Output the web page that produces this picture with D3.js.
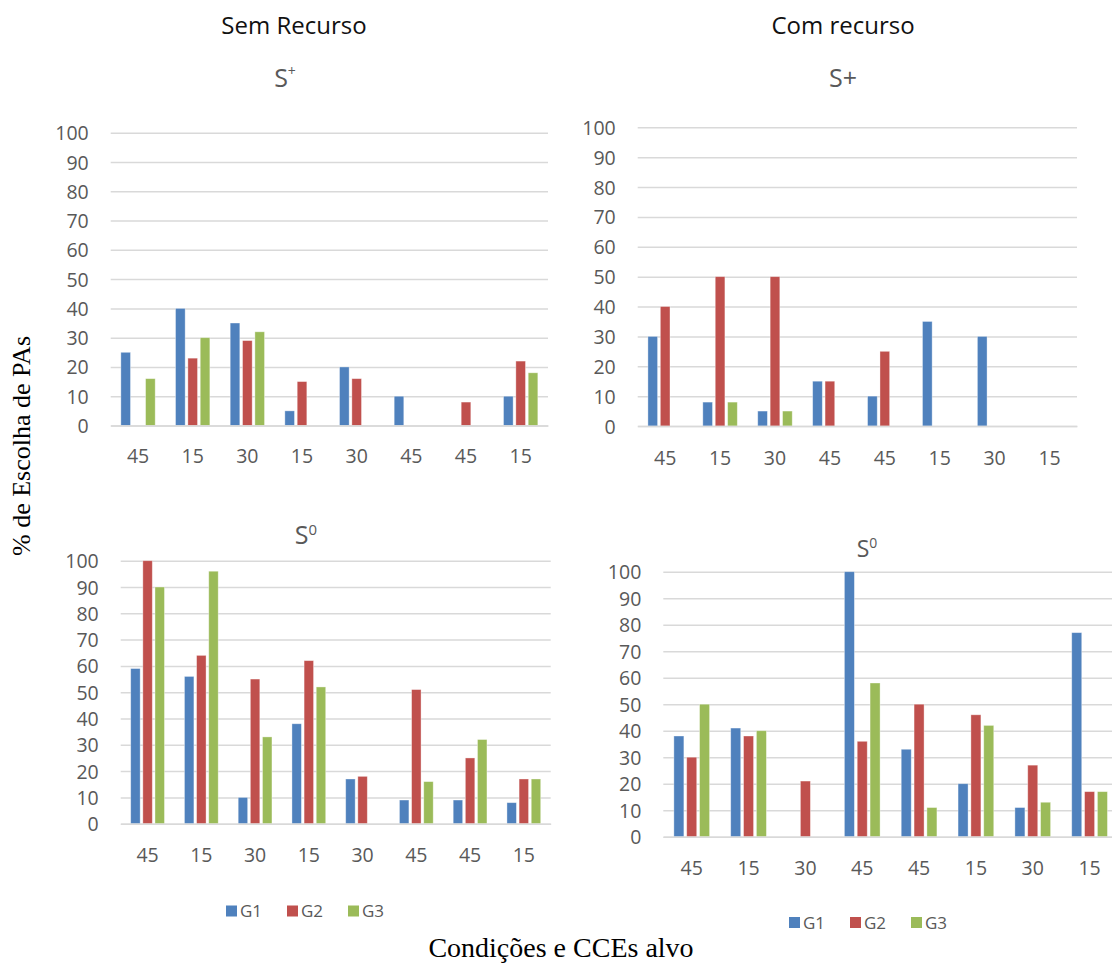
<!DOCTYPE html>
<html>
<head>
<meta charset="utf-8">
<script src="https://cdn.jsdelivr.net/npm/d3@7"></script>
<style>
  html, body { margin: 0; padding: 0; background: #fff; }
  svg { display: block; }
</style>
</head>
<body>
<svg id="chart" width="1112" height="965"></svg>
<script>
// Target CCE labels for each condition
const catsSem = ["45", "15", "30", "15", "30", "45", "45", "15"];
const catsCom = ["45", "15", "30", "45", "45", "15", "30", "15"];

const groups = ["G1", "G2", "G3"];
const groupColors = ["#4F81BD", "#C0504D", "#9BBB59"];

// Sem Recurso, S+
const semPlusG1 = [25, 40, 35, 5, 20, 10, 0, 10];
const semPlusG2 = [0, 23, 29, 15, 16, 0, 8, 22];
const semPlusG3 = [16, 30, 32, 0, 0, 0, 0, 18];

// Com recurso, S+
const comPlusG1 = [30, 8, 5, 15, 10, 35, 30, 0];
const comPlusG2 = [40, 50, 50, 15, 25, 0, 0, 0];
const comPlusG3 = [0, 8, 5, 0, 0, 0, 0, 0];

// Sem Recurso, S0
const semZeroG1 = [59, 56, 10, 38, 17, 9, 9, 8];
const semZeroG2 = [100, 64, 55, 62, 18, 51, 25, 17];
const semZeroG3 = [90, 96, 33, 52, 0, 16, 32, 17];

// Com recurso, S0
const comZeroG1 = [38, 41, 0, 100, 33, 20, 11, 77];
const comZeroG2 = [30, 38, 21, 36, 50, 46, 27, 17];
const comZeroG3 = [50, 40, 0, 58, 11, 42, 13, 17];

const yTicks = [0, 10, 20, 30, 40, 50, 60, 70, 80, 90, 100];

const svg = d3.select("#chart");
const tickFont = "'Open Sans', Lato, sans-serif";
const tickColor = "#595959";

// Panel frames (plot area and label placement)
const panels = [
  { cats: catsSem, series: [semPlusG1, semPlusG2, semPlusG3], x0: 110.7, x1: 548, yTop: 132.7, yBase: 425.5, catY: 456 },
  { cats: catsCom, series: [comPlusG1, comPlusG2, comPlusG3], x0: 637.7, x1: 1077, yTop: 127.3, yBase: 426, catY: 457.5 },
  { cats: catsSem, series: [semZeroG1, semZeroG2, semZeroG3], x0: 120.7, x1: 550.7, yTop: 560.7, yBase: 823.7, catY: 855 },
  { cats: catsCom, series: [comZeroG1, comZeroG2, comZeroG3], x0: 663.3, x1: 1118, yTop: 571.7, yBase: 836.7, catY: 868 }
];

panels.forEach(p => {
  const g = svg.append("g");
  const idx = d3.range(p.cats.length);
  const x = d3.scaleBand().domain(idx).range([p.x0, p.x1]).padding(0);
  const xs = d3.scaleBand().domain(groups).range([0, x.bandwidth()])
    .paddingInner(0.221).paddingOuter(0.823);
  const y = d3.scaleLinear().domain([0, 100]).range([p.yBase, p.yTop]);

  // value axis with gridlines
  const ay = g.append("g")
    .attr("transform", `translate(${p.x0},0)`)
    .call(d3.axisLeft(y).tickValues(yTicks).tickSize(-(p.x1 - p.x0)).tickPadding(22));
  ay.select(".domain").remove();
  ay.selectAll(".tick line").attr("stroke", "#d9d9d9").attr("stroke-width", 1.5);
  ay.selectAll(".tick text")
    .attr("fill", tickColor).attr("font-family", tickFont).attr("font-size", 19.5)
    .attr("dy", "0.36em");

  // bars
  groups.forEach((gr, si) => {
    g.append("g").selectAll("rect")
      .data(p.series[si].map((v, i) => ({ i, v })).filter(d => d.v > 0))
      .join("rect")
      .attr("x", d => x(d.i) + xs(gr))
      .attr("width", xs.bandwidth())
      .attr("y", d => y(d.v))
      .attr("height", d => y(0) - y(d.v))
      .attr("fill", groupColors[si])
      .attr("stroke", "#ffffff").attr("stroke-opacity", 0.45).attr("stroke-width", 0.8);
  });

  // category axis
  const ax = g.append("g")
    .attr("transform", `translate(0,${p.yBase})`)
    .call(d3.axisBottom(x).tickSize(0).tickFormat(i => p.cats[i]));
  ax.select(".domain").attr("stroke", "#d9d9d9").attr("stroke-width", 1.5);
  ax.selectAll(".tick text")
    .attr("fill", tickColor).attr("font-family", tickFont).attr("font-size", 19.5)
    .attr("y", p.catY - p.yBase).attr("dy", "0.36em");
});

// Column headings
const headFont = "'Open Sans', Lato, sans-serif";
svg.append("text").attr("x", 294).attr("y", 34).attr("text-anchor", "middle")
  .attr("font-family", headFont).attr("font-size", 24).attr("fill", "#111").text("Sem Recurso");
svg.append("text").attr("x", 843).attr("y", 34).attr("text-anchor", "middle")
  .attr("font-family", headFont).attr("font-size", 24).attr("fill", "#111").text("Com recurso");

// Panel titles
const t1 = svg.append("text").attr("x", 285).attr("y", 87).attr("text-anchor", "middle")
  .attr("font-family", headFont).attr("font-size", 25).attr("fill", tickColor);
t1.append("tspan").text("S");
t1.append("tspan").attr("font-size", 14).attr("dy", -11).text("+");

svg.append("text").attr("x", 843).attr("y", 87).attr("text-anchor", "middle")
  .attr("font-family", headFont).attr("font-size", 25).attr("fill", tickColor).text("S+");

const t3 = svg.append("text").attr("x", 306).attr("y", 544).attr("text-anchor", "middle")
  .attr("font-family", headFont).attr("font-size", 25).attr("fill", tickColor);
t3.append("tspan").text("S");
t3.append("tspan").attr("font-size", 15).attr("dy", -9).text("0");

const t4 = svg.append("text").attr("x", 867).attr("y", 557).attr("text-anchor", "middle")
  .attr("font-family", headFont).attr("font-size", 23).attr("fill", tickColor);
t4.append("tspan").text("S");
t4.append("tspan").attr("font-size", 14).attr("dy", -9).text("0");

// Legends
function legend(xStart, yCenter) {
  const lg = svg.append("g");
  groups.forEach((gr, i) => {
    const lx = xStart + i * 61;
    lg.append("rect").attr("x", lx).attr("y", yCenter - 5.5).attr("width", 11).attr("height", 11)
      .attr("fill", groupColors[i]);
    lg.append("text").attr("x", lx + 14).attr("y", yCenter).attr("dy", "0.36em")
      .attr("font-family", tickFont).attr("font-size", 17).attr("fill", tickColor).text(gr);
  });
}
legend(226, 911);
legend(789, 922.5);

// Shared axis titles
svg.append("text")
  .attr("transform", "translate(30,446) rotate(-90)")
  .attr("text-anchor", "middle")
  .attr("font-family", "'Liberation Serif', 'Times New Roman', serif")
  .attr("font-size", 26).attr("fill", "#000")
  .text("% de Escolha de PAs");

svg.append("text")
  .attr("x", 561).attr("y", 957).attr("text-anchor", "middle")
  .attr("font-family", "'Liberation Serif', 'Times New Roman', serif")
  .attr("font-size", 28).attr("fill", "#000")
  .text("Condições e CCEs alvo");
</script>
</body>
</html>
